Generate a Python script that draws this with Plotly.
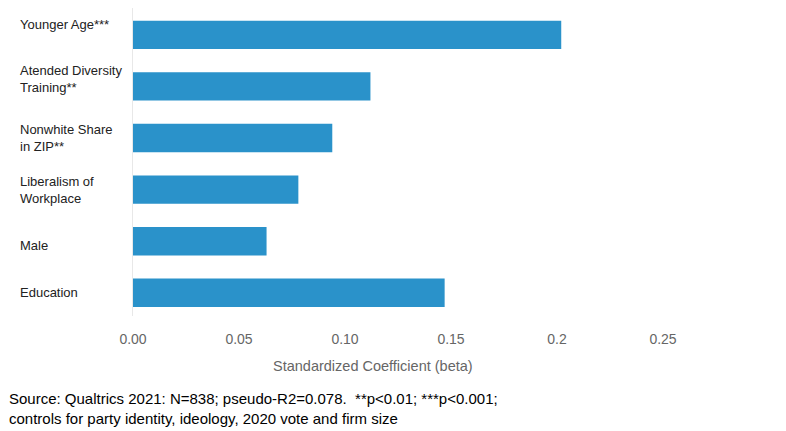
import plotly.graph_objects as go

# categories from bottom to top
labels = ['Education', 'Male', 'Liberalism of<br>Workplace', 'Nonwhite Share<br>in ZIP**',
          'Atended Diversity<br>Training**', 'Younger Age***']
beta = [0.147, 0.063, 0.078, 0.094, 0.112, 0.202]

tick_vals = [0, 0.05, 0.10, 0.15, 0.20, 0.25]
tick_text = ['0.00', '0.05', '0.10', '0.15', '0.2', '0.25']

source = ('Source: Qualtrics 2021: N=838; pseudo-R2=0.078.  **p<0.01; ***p<0.001;<br>'
          'controls for party identity, ideology, 2020 vote and firm size')

cats = list(range(len(labels)))

fig = go.Figure(go.Bar(x=beta, y=cats, orientation='h', width=0.55,
                       marker=dict(color='#2a92ca', line=dict(width=0))))

# left aligned category labels (small vertical nudges like the original)
nudge = [0, -4, 0, 0, 7, 10]
for c, lab, dy in zip(cats, labels, nudge):
    fig.add_annotation(x=0, xref='paper', xanchor='left', xshift=-115,
                       y=c, yref='y', yanchor='middle', yshift=dy, text=lab,
                       align='left', showarrow=False,
                       font=dict(size=13, color='#222222'))

# axis title sits a little left of centre
fig.add_annotation(x=0.5, xref='paper', xanchor='center', xshift=-25,
                   y=0, yref='paper', yanchor='middle', yshift=-50,
                   text='Standardized Coefficient (beta)', showarrow=False,
                   font=dict(size=14.5, color='#666666'))

fig.add_annotation(x=0, xref='paper', xanchor='left', xshift=-126,
                   y=0, yref='paper', yanchor='middle', yshift=-92,
                   text=source, align='left', showarrow=False,
                   font=dict(size=15, color='#000000'))

# page has an 8px body margin, so figure is a bit smaller than the window
fig.update_layout(
    width=778, height=423,
    margin=dict(l=125, r=123, t=0, b=115),
    paper_bgcolor='white', plot_bgcolor='white',
    font=dict(family='Liberation Sans, Arial, Helvetica, sans-serif'),
    showlegend=False,
)
fig.update_xaxes(range=[0, 0.25], tickvals=tick_vals, ticktext=tick_text,
                 showgrid=False, zeroline=False, showline=False, ticks='',
                 ticklabelstandoff=13, tickfont=dict(size=14, color='#666666'))
fig.update_yaxes(range=[-0.45, 5.52], showticklabels=False, showgrid=False,
                 zeroline=False, showline=True, linecolor='#e8e8e8', linewidth=1,
                 ticks='')

fig.write_html("out.html")
